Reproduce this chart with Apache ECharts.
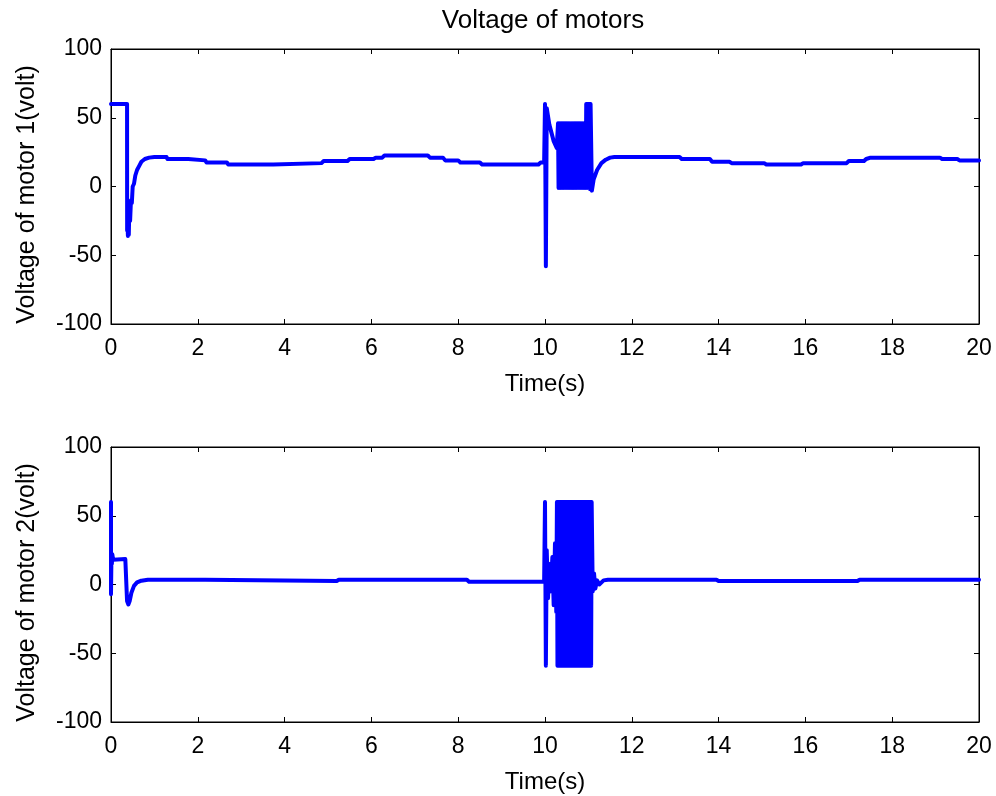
<!DOCTYPE html>
<html>
<head>
<meta charset="utf-8">
<script src="https://cdn.jsdelivr.net/npm/echarts@6/dist/echarts.min.js"></script>
<style>html,body{margin:0;padding:0;background:#fff;}#c{width:996px;height:796px;}</style>
</head>
<body>
<div id="c"></div>
<script>
// ---- Data ----
const chartTitle = 'Voltage of motors';
const xName = 'Time(s)';
const yName1 = 'Voltage of motor 1(volt)';
const yName2 = 'Voltage of motor 2(volt)';

// Motor 1
const time1Pre = [0,0.37,0.372,0.38,0.39,0.40,0.41,0.42,0.44,0.46,0.48,0.50,0.53,0.56,0.60,0.65,0.70,0.78,0.88,1.0,1.28,1.30,1.78,1.80,2.17,2.20,2.67,2.70,3.74,3.78,4.85,4.9,5.45,5.5,6.05,6.1,6.25,6.3,7.3,7.35,7.65,7.7,8.0,8.05,8.5,8.55,9.85,9.9,9.98,10.0,10.02,10.04,10.1,10.2,10.27];
const volt1Pre = [60,60,-32,-28,-36,-30,-35,-20,-25,-10,-12,0,2,8,12,15,18,20,21,21.5,21.5,20,20,19,19,17.5,17.5,16,16,17,17,18.5,18.5,20,20,21,21,22.5,22.5,21,21,19,19,17.5,17.5,16,16,17.5,17.5,60,-58,57,45,33,28];
const time1Burst = [10.3,10.3125,10.325,10.3375,10.35,10.3625,10.375,10.3875,10.4,10.4125,10.425,10.4375,10.45,10.4625,10.475,10.4875,10.5,10.5125,10.525,10.5375,10.55,10.5625,10.575,10.5875,10.6,10.6125,10.625,10.6375,10.65,10.6625,10.675,10.6875,10.7,10.7125,10.725,10.7375,10.75,10.7625,10.775,10.7875,10.8,10.8125,10.825,10.8375,10.85,10.8625,10.875,10.8875,10.9,10.9125,10.925,10.9375,10.95,10.9625,10.975,10.9875,11.0,11.0125,11.025,11.0375,11.05];
const volt1Burst = [46,-1,46,-1,46,-1,46,-1,46,-1,46,-1,46,-1,46,-1,46,-1,46,-1,46,-1,46,-1,46,-1,46,-1,46,-1,46,-1,46,-1,46,-1,46,-1,46,-1,46,-1,46,-1,46,-1,46,-1,46,-1,46,-1,60,-1,60,-1,60,-1,60,-2,60];
const time1Post = [11.08,11.12,11.2,11.3,11.4,11.5,11.6,13.1,13.15,13.8,13.85,14.25,14.3,15.05,15.1,15.9,15.95,16.95,17.0,17.35,17.4,17.5,19.1,19.15,19.5,19.55,20];
const volt1Post = [-3,5,12,17,19.5,21,21.5,21.5,20,20,18,18,17,17,16,16,17,17,18.5,18.5,20,21,21,20,20,19,19];

// Motor 2
const time2Pre = [0,0,0.01,0.02,0.03,0.05,0.33,0.35,0.37,0.40,0.43,0.47,0.53,0.60,0.70,0.85,2.17,2.2,5.2,5.25,8.2,8.25,9.98,10.0,10.02,10.04,10.07,10.1,10.13,10.17,10.2,10.23,10.26];
const volt2Pre = [60,-7,20,15,22,18,18.5,19,-12,-14.5,-12,-6,-1,1.5,2.8,3.5,3.5,2.5,2.5,3.5,3.5,2,2,60,-59,25,-10,15,-5,20,-15,30,-20];
const time2Burst = [10.275,10.2875,10.3,10.3125,10.325,10.3375,10.35,10.3625,10.375,10.3875,10.4,10.4125,10.425,10.4375,10.45,10.4625,10.475,10.4875,10.5,10.5125,10.525,10.5375,10.55,10.5625,10.575,10.5875,10.6,10.6125,10.625,10.6375,10.65,10.6625,10.675,10.6875,10.7,10.7125,10.725,10.7375,10.75,10.7625,10.775,10.7875,10.8,10.8125,10.825,10.8375,10.85,10.8625,10.875,10.8875,10.9,10.9125,10.925,10.9375,10.95,10.9625,10.975,10.9875,11.0,11.0125,11.025,11.0375,11.05,11.0625,11.075];
const volt2Burst = [60,-59,60,-59,60,-59,60,-59,60,-59,60,-59,60,-59,60,-59,60,-59,60,-59,60,-59,60,-59,60,-59,60,-59,60,-59,60,-59,60,-59,60,-59,60,-59,60,-59,60,-59,60,-59,60,-59,60,-59,60,-59,60,-59,60,-59,60,-59,60,-59,60,-59,60,-59,60,-59,60];
const time2Post = [11.1,11.13,11.16,11.2,11.25,11.35,11.45,13.95,14.0,17.2,17.25,20];
const volt2Post = [-5,8,-3,3,0,3,3.5,3.5,2.5,2.5,3.5,3.5];

// ---- Build ----
function zip(t, v) { return t.map((x, i) => [x, v[i]]); }
const data1 = zip(time1Pre.concat(time1Burst, time1Post), volt1Pre.concat(volt1Burst, volt1Post));
const data2 = zip(time2Pre.concat(time2Burst, time2Post), volt2Pre.concat(volt2Burst, volt2Post));

const FONT = "'Liberation Sans', Arial, sans-serif";
const black = '#000';

function xAx(gi, primary) {
  return {
    type: 'value', gridIndex: gi, min: 0, max: 20, interval: 2,
    position: primary ? 'bottom' : 'top',
    name: primary ? xName : '', nameLocation: 'middle', nameGap: 48,
    nameTextStyle: { color: black, fontSize: 24, fontFamily: FONT },
    axisLine: { show: true, onZero: false, lineStyle: { color: black, width: 1 } },
    axisTick: { show: true, inside: true, length: 5, lineStyle: { color: black } },
    axisLabel: { show: primary, color: black, fontSize: 23, fontFamily: FONT, margin: 13 },
    splitLine: { show: false }
  };
}
function yAx(gi, primary, nm) {
  return {
    type: 'value', gridIndex: gi, min: -100, max: 100, interval: 50,
    position: primary ? 'left' : 'right',
    name: primary ? nm : '', nameLocation: 'middle', nameGap: 71, nameRotate: 90,
    nameTextStyle: { color: black, fontSize: 25, fontFamily: FONT, padding: [0, 16, 0, 0] },
    axisLine: { show: true, onZero: false, lineStyle: { color: black, width: 1 } },
    axisTick: { show: true, inside: true, length: 5, lineStyle: { color: black } },
    axisLabel: { show: primary, color: black, fontSize: 23, fontFamily: FONT, margin: 9 },
    splitLine: { show: false }
  };
}

const chart = echarts.init(document.getElementById('c'), null, { renderer: 'canvas' });
chart.setOption({
  animation: false,
  backgroundColor: '#fff',
  title: { text: chartTitle, left: 538, textAlign: 'center', top: 3,
    textStyle: { color: black, fontSize: 26, fontWeight: 'normal', fontFamily: FONT } },
  grid: [
    { left: 111, top: 49, width: 868, height: 275, show: true, borderColor: black, borderWidth: 1, backgroundColor: '#fff' },
    { left: 111, top: 447, width: 868, height: 275, show: true, borderColor: black, borderWidth: 1, backgroundColor: '#fff' }
  ],
  xAxis: [xAx(0, true), xAx(1, true), xAx(0, false), xAx(1, false)],
  yAxis: [yAx(0, true, yName1), yAx(1, true, yName2), yAx(0, false), yAx(1, false)],
  series: [
    { type: 'line', xAxisIndex: 0, yAxisIndex: 0, data: data1, showSymbol: false, symbol: 'none',
      lineStyle: { color: '#0000ff', width: 4, join: 'round', cap: 'round' }, sampling: null },
    { type: 'line', xAxisIndex: 1, yAxisIndex: 1, data: data2, showSymbol: false, symbol: 'none',
      lineStyle: { color: '#0000ff', width: 4, join: 'round', cap: 'round' }, sampling: null }
  ]
});
</script>
</body>
</html>
